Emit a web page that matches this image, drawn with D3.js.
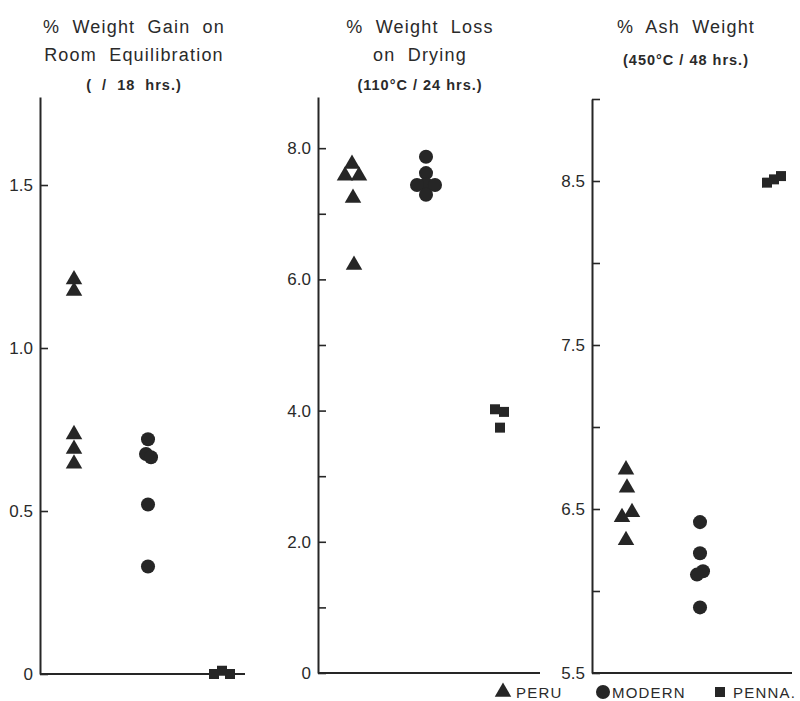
<!DOCTYPE html>
<html>
<head>
<meta charset="utf-8">
<script src="https://cdn.jsdelivr.net/npm/d3@7"></script>
<style>
  body { margin: 0; background: #fff; }
  text { font-family: "Liberation Sans", Arial, sans-serif; fill: #2a2a2a; }
</style>
</head>
<body>
<div id="chart"></div>
<script>
// groups shown in every panel
const groups = ["PERU", "MODERN", "PENNA."];

// % weight gain on room equilibration
const gainPeru = [1.21, 1.175, 0.735, 0.69, 0.645];
const gainModern = [0.72, 0.675, 0.665, 0.52, 0.33];
const gainPenna = [0.0, 0.01, 0.0];

// % weight loss on drying
const lossPeru = [7.76, 7.58, 7.58, 7.24, 6.22];
const lossModern = [7.87, 7.62, 7.45, 7.44, 7.44, 7.29];
const lossPenna = [4.02, 3.98, 3.74];

// % ash weight
const ashPeru = [6.74, 6.63, 6.48, 6.45, 6.31];
const ashModern = [6.42, 6.23, 6.12, 6.1, 5.9];
const ashPenna = [8.49, 8.51, 8.53];

// small sideways offsets (px) so overlapping points stay visible
const gainJitter = [[0, 0, 0, 0, 0], [0, -2, 3, 0, 0], [-8, 0, 8]];
const lossJitter = [[0, -7, 7, 1, 2], [0, 0, 0, -9, 9, 0], [-5, 4, 0]];
const ashJitter = [[0, 1, 6, -4, 0], [0, 0, 3, -3, 0], [-7, 0, 7]];

// tick values and labels
const gainTicks = [0, 0.5, 1.0, 1.5];
const gainLabels = ["0", "0.5", "1.0", "1.5"];
const lossTicks = [0, 1, 2, 3, 4, 5, 6, 7, 8];
const lossLabels = ["0", "", "2.0", "", "4.0", "", "6.0", "", "8.0"];
const ashTicks = [5.5, 6.0, 6.5, 7.0, 7.5, 8.0, 8.5, 9.0];
const ashLabels = ["5.5", "", "6.5", "", "7.5", "", "8.5", ""];

const panels = [
  {
    x0: 40, x1: 245, domain: [0, 1.77], bottom: 674, top: 97,
    title: ["% Weight Gain on", "Room Equilibration"], sub: "(  /  18  hrs.)", cx: 134,
    series: [gainPeru, gainModern, gainPenna], jitter: gainJitter,
    ticks: gainTicks, labels: gainLabels
  },
  {
    x0: 318, x1: 540, domain: [0, 8.78], bottom: 673, top: 97,
    title: ["% Weight Loss", "on Drying"], sub: "(110°C / 24 hrs.)", cx: 420,
    series: [lossPeru, lossModern, lossPenna], jitter: lossJitter,
    ticks: lossTicks, labels: lossLabels
  },
  {
    x0: 592, x1: 792, domain: [5.5, 9.0], bottom: 673, top: 99,
    title: ["% Ash Weight"], sub: "(450°C / 48 hrs.)", cx: 686,
    series: [ashPeru, ashModern, ashPenna], jitter: ashJitter,
    ticks: ashTicks, labels: ashLabels
  }
];

const width = 800;
const height = 701;
const ink = "#262626";

const svg = d3.select("#chart")
  .append("svg")
  .attr("width", width)
  .attr("height", height);

const symbols = [
  d3.symbol().type(d3.symbolTriangle).size(118),
  d3.symbol().type(d3.symbolCircle).size(155),
  d3.symbol().type(d3.symbolSquare).size(100)
];

panels.forEach(function (p) {
  const g = svg.append("g");

  const y = d3.scaleLinear().domain(p.domain).range([p.bottom, p.top]);
  const x = d3.scalePoint().domain(groups).range([p.x0 + 34, p.x0 + 182]);

  // titles
  p.title.forEach(function (line, i) {
    g.append("text")
      .attr("x", p.cx)
      .attr("y", 33 + i * 28)
      .attr("text-anchor", "middle")
      .style("font-size", "18px")
      .style("letter-spacing", "1.2px")
      .style("word-spacing", "6px")
      .text(line);
  });
  g.append("text")
    .attr("x", p.cx)
    .attr("y", p.title.length === 2 ? 90 : 65)
    .attr("text-anchor", "middle")
    .style("font-size", "14.5px")
    .style("font-weight", "bold")
    .style("letter-spacing", "1px")
    .style("white-space", "pre")
    .text(p.sub);

  // y axis
  const axis = d3.axisLeft(y)
    .tickValues(p.ticks)
    .tickFormat((d, i) => p.labels[i])
    .tickSizeInner(-8)
    .tickSizeOuter(0)
    .tickPadding(7);

  const ax = g.append("g")
    .attr("transform", `translate(${p.x0},0)`)
    .call(axis);
  ax.select(".domain").attr("stroke", ink).attr("stroke-width", 2);
  ax.selectAll(".tick line").attr("stroke", ink).attr("stroke-width", 1.6);
  ax.selectAll(".tick text")
    .style("font-size", "17px")
    .style("font-family", "'Liberation Sans', Arial, sans-serif")
    .attr("fill", ink);

  // x baseline
  g.append("line")
    .attr("x1", p.x0)
    .attr("x2", p.x1)
    .attr("y1", p.bottom)
    .attr("y2", p.bottom)
    .attr("stroke", ink)
    .attr("stroke-width", 2);

  // points
  p.series.forEach(function (vals, gi) {
    g.append("g")
      .selectAll("path")
      .data(vals)
      .join("path")
      .attr("d", symbols[gi])
      .attr("fill", ink)
      .attr("transform", (d, i) =>
        `translate(${x(groups[gi]) + p.jitter[gi][i]},${y(d)})`);
  });
});

// legend
const legend = svg.append("g").attr("transform", "translate(0,692)");
const legendX = [503, 603, 720];
groups.forEach(function (name, i) {
  legend.append("path")
    .attr("d", symbols[i])
    .attr("fill", ink)
    .attr("transform", `translate(${legendX[i]},0)`);
  legend.append("text")
    .attr("x", legendX[i] + (i === 0 ? 13 : i === 1 ? 9 : 13))
    .attr("y", 6)
    .style("font-size", "15px")
    .style("letter-spacing", "1.2px")
    .text(name);
});
</script>
</body>
</html>
